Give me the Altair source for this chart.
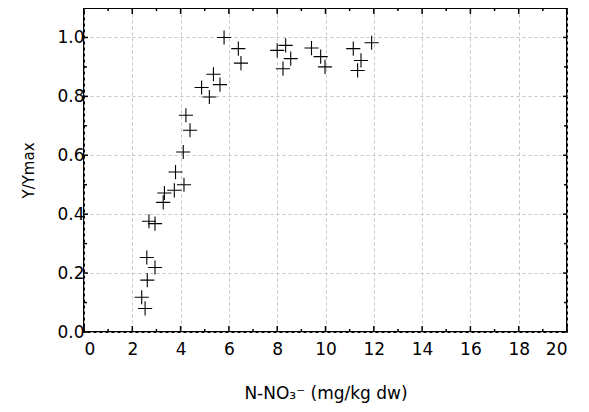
import altair as alt
import pandas as pd

x_vals = [5.80, 6.39, 6.50, 8.00, 8.35, 8.24, 8.56, 9.42, 9.80, 9.98,
          5.36, 4.87, 5.63, 5.19, 4.22, 4.39, 4.11, 3.79, 4.14, 3.74,
          3.33, 3.28, 2.69, 2.94, 2.60, 2.94, 2.62, 2.39, 2.53,
          11.15, 11.91, 11.47, 11.33]
y_vals = [1.000, 0.962, 0.913, 0.956, 0.973, 0.894, 0.928, 0.964, 0.935, 0.900,
          0.875, 0.830, 0.840, 0.798, 0.736, 0.685, 0.611, 0.543, 0.500, 0.481,
          0.472, 0.440, 0.376, 0.368, 0.253, 0.219, 0.176, 0.118, 0.080,
          0.962, 0.982, 0.922, 0.888]

x_major = list(range(0, 21, 2))
x_minor = list(range(1, 20, 2))
y_major = [0.0, 0.2, 0.4, 0.6, 0.8, 1.0]
y_minor = [0.1, 0.3, 0.5, 0.7, 0.9]

W, H = 483, 324
FONT = "DejaVu Sans"

df = pd.DataFrame({"x": x_vals, "y": y_vals})
xs = alt.Scale(domain=[0, 20], nice=False)
ys = alt.Scale(domain=[0, 1.1], nice=False)

x_axis = alt.Axis(values=x_major, format="d", labelPadding=9, labelFont=FONT, labelFontSize=17,
                  labelColor="black", title="N-NO₃⁻ (mg/kg dw)", titlePadding=28, titleFontSize=17)
y_axis = alt.Axis(values=y_major, format=".1f", labelPadding=0, labelFont=FONT, labelFontSize=17,
                  labelColor="black", title="Y/Ymax", titlePadding=20, titleFontSize=15)

pts = alt.Chart(df).mark_point(
    shape="M-1,0H1M0,-1V1", size=200, filled=False, stroke="black", strokeWidth=1.1, opacity=1
).encode(
    x=alt.X("x:Q", scale=xs, axis=x_axis),
    y=alt.Y("y:Q", scale=ys, axis=y_axis),
)

def xticks(vals, length):
    d = pd.DataFrame({"t": vals})
    top = alt.Chart(d).mark_rule(color="black", strokeWidth=1.5).encode(
        x=alt.X("t:Q", scale=xs, axis=x_axis), y=alt.value(0), y2=alt.value(length))
    bot = alt.Chart(d).mark_rule(color="black", strokeWidth=1.5).encode(
        x=alt.X("t:Q", scale=xs, axis=x_axis), y=alt.value(H), y2=alt.value(H - length))
    return [top, bot]

def yticks(vals, length):
    d = pd.DataFrame({"t": vals})
    left = alt.Chart(d).mark_rule(color="black", strokeWidth=1.5).encode(
        y=alt.Y("t:Q", scale=ys, axis=y_axis), x=alt.value(0), x2=alt.value(length))
    right = alt.Chart(d).mark_rule(color="black", strokeWidth=1.5).encode(
        y=alt.Y("t:Q", scale=ys, axis=y_axis), x=alt.value(W), x2=alt.value(W - length))
    return [left, right]

layers = [pts] + xticks(x_major, 6) + xticks(x_minor, 3) + yticks(y_major, 4) + yticks(y_minor, 3)

chart = alt.layer(*layers).properties(
    width=W, height=H,
    autosize=alt.AutoSizeParams(type="none"),
    padding={"left": 76, "top": 0, "right": 14, "bottom": 72},
    background="white",
).configure_view(stroke="black", strokeWidth=2).configure_axis(
    grid=True, gridDash=[3, 3], gridColor="#c4c4c4", ticks=False, domain=False,
    labelFont=FONT, labelFontSize=17, labelColor="black",
    titleFont=FONT, titleFontWeight="normal", titleColor="black",
)

chart.save("out.html", embed_options={"renderer": "svg", "actions": False})
